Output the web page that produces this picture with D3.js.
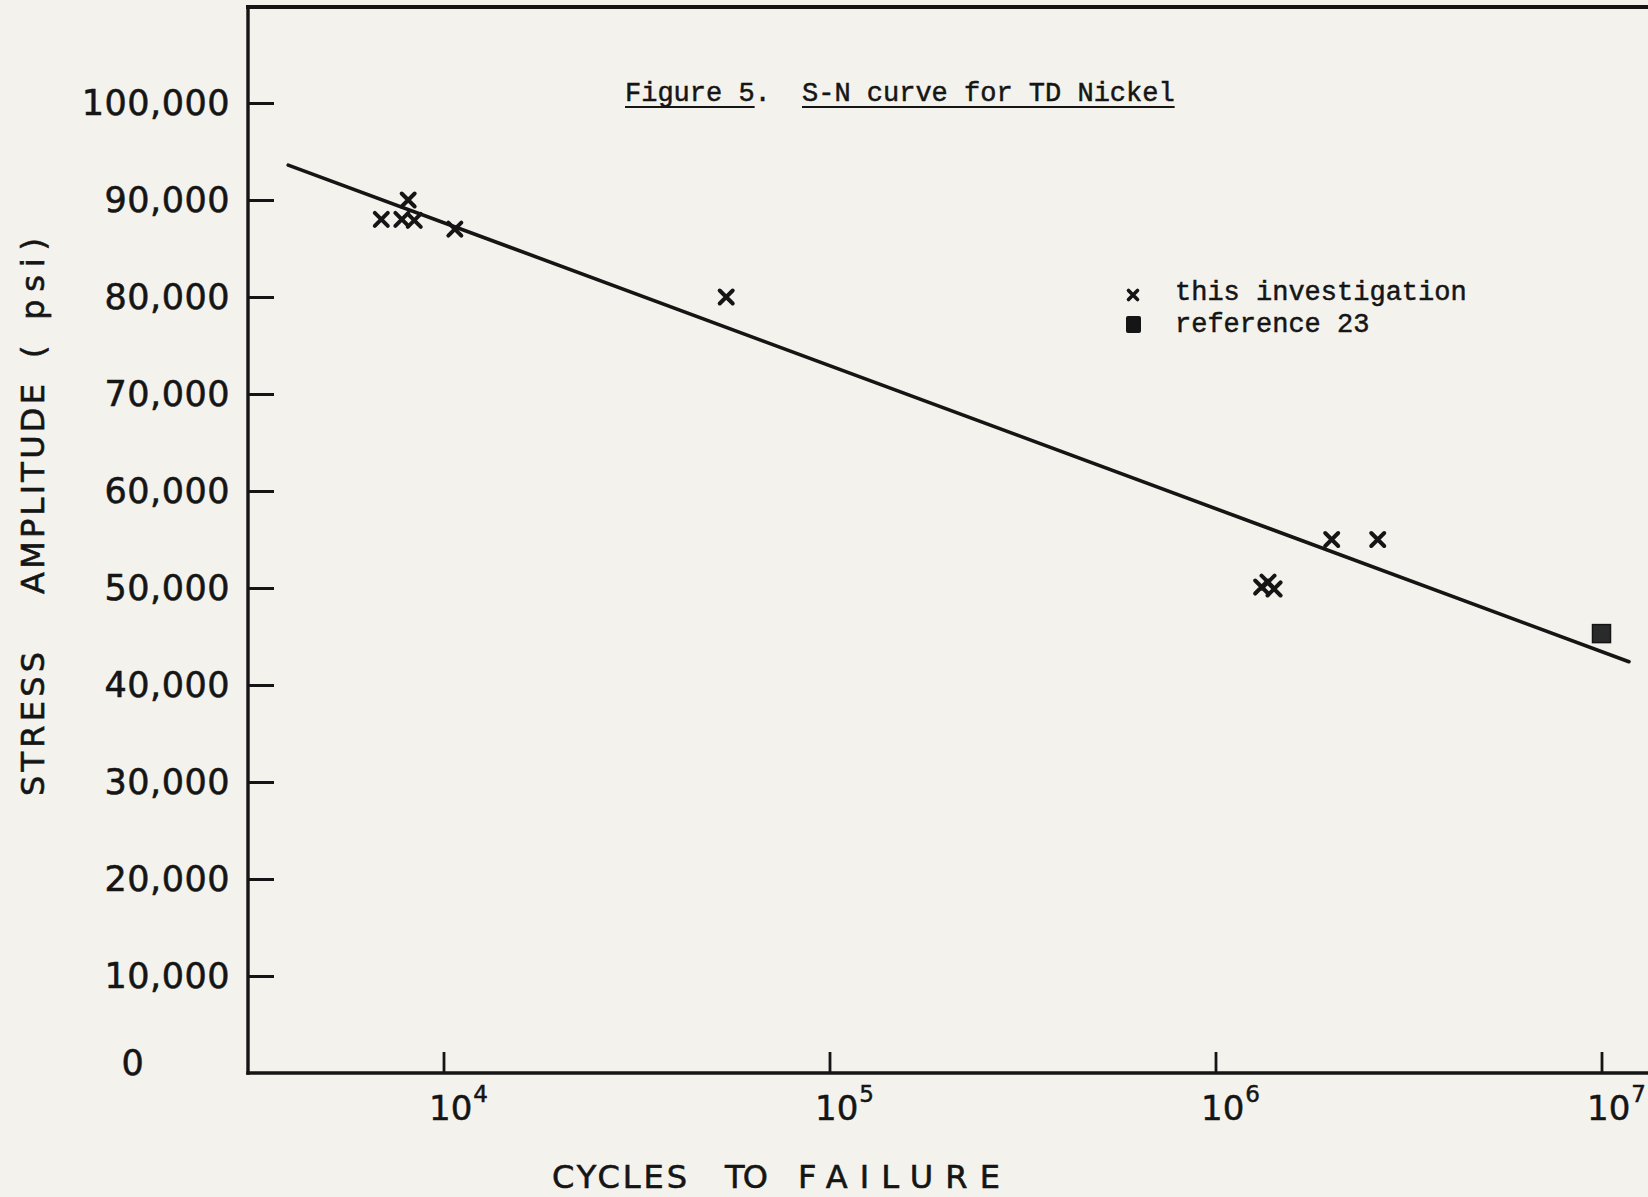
<!DOCTYPE html>
<html>
<head>
<meta charset="utf-8">
<script src="https://cdn.jsdelivr.net/npm/d3@7"></script>
<style>
  html, body { margin: 0; padding: 0; background: #f2f1ea; }
  svg { display: block; }
</style>
</head>
<body>
<svg id="chart" width="1648" height="1197"></svg>
<script>
// ---- data ----
const cyclesInvestigation = [6900, 7800, 8100, 8400, 10700, 54000, 1317000, 1368000, 1418000, 2000000, 2632000];
const stressInvestigation = [88000, 88000, 90000, 87900, 87000, 80000, 50100, 50600, 49900, 55000, 55000];
const cyclesReference = [10000000];
const stressReference = [45300];
const fitCycles = [3960, 11780000];
const fitStress = [93600, 42400];
const yTickValues = [0, 10000, 20000, 30000, 40000, 50000, 60000, 70000, 80000, 90000, 100000];
const xTickValues = [1e4, 1e5, 1e6, 1e7];
const xTickExponents = ["4", "5", "6", "7"];
const legendLabels = ["this investigation", "reference 23"];

// ---- layout ----
const W = 1648, H = 1197;
const frameLeft = 248, frameTop = 7, frameBottom = 1073, frameRight = 1648;
const ink = "#151515";
const sans = "'DejaVu Sans', sans-serif";
const mono = "'Liberation Mono', 'DejaVu Sans Mono', monospace";

const svg = d3.select("#chart");
svg.append("rect").attr("width", W).attr("height", H).attr("fill", "#f3f2ec");

const x = d3.scaleLog().domain([1e4, 1e7]).range([443.5, 1601.5]);
const y = d3.scaleLinear().domain([0, 100000]).range([1073, 103]);

// frame
const frame = svg.append("g").attr("stroke", ink).attr("fill", "none").attr("stroke-linecap", "square");
frame.append("line").attr("x1", frameLeft).attr("x2", frameRight).attr("y1", frameTop).attr("y2", frameTop).attr("stroke-width", 4);
frame.append("line").attr("x1", frameLeft).attr("x2", frameLeft).attr("y1", frameTop).attr("y2", frameBottom).attr("stroke-width", 3.4);
frame.append("line").attr("x1", frameLeft).attr("x2", frameRight).attr("y1", frameBottom).attr("y2", frameBottom).attr("stroke-width", 3.4);

// y axis
const yAxis = d3.axisLeft(y)
  .tickValues(yTickValues)
  .tickFormat(d3.format(","))
  .tickSizeInner(-26)
  .tickSizeOuter(0)
  .tickPadding(18);
const gy = svg.append("g").attr("transform", `translate(${frameLeft},0)`).call(yAxis);
gy.select(".domain").remove();
gy.selectAll(".tick line").attr("stroke", ink).attr("stroke-width", 3);
gy.selectAll(".tick").filter(d => d === 0).select("line").remove();
gy.selectAll(".tick text")
  .attr("fill", ink)
  .attr("stroke", ink)
  .attr("stroke-width", 0.6)
  .style("font-family", sans)
  .style("font-size", "35px")
  .style("letter-spacing", "0.5px");
gy.selectAll(".tick").filter(d => d === 0).select("text")
  .attr("text-anchor", "middle")
  .attr("x", 133 - frameLeft)
  .attr("dy", "0.05em");

// x axis
const xAxis = d3.axisBottom(x)
  .tickValues(xTickValues)
  .tickFormat("")
  .tickSizeInner(-21)
  .tickSizeOuter(0);
const gx = svg.append("g").attr("transform", `translate(0,${frameBottom})`).call(xAxis);
gx.select(".domain").remove();
gx.selectAll(".tick line").attr("stroke", ink).attr("stroke-width", 2.8);
gx.selectAll(".tick").each(function(d, i) {
  const t = d3.select(this).append("text")
    .attr("x", -15)
    .attr("y", 47)
    .attr("text-anchor", "start")
    .attr("fill", ink)
    .attr("stroke", ink)
    .attr("stroke-width", 0.5)
    .style("font-family", sans)
    .style("font-size", "34px");
  t.append("tspan").text("10");
  t.append("tspan").attr("dx", 1).attr("dy", -18).style("font-size", "23px").text(xTickExponents[i]);
});

// axis titles
const xTitleParts = [["CYCLES", 552, 135], ["TO", 725, 43], ["FAILURE", 798, 202]];
xTitleParts.forEach(([txt, px, len]) => {
  svg.append("text")
    .attr("x", px).attr("y", 1188)
    .attr("textLength", len).attr("lengthAdjust", "spacing")
    .attr("fill", ink).attr("stroke", ink).attr("stroke-width", 0.6)
    .style("font-family", sans).style("font-size", "32px")
    .text(txt);
});
const yTitleParts = [["STRESS", 724, 144], ["AMPLITUDE", 489, 210], ["( psi)", 298, 120]];
yTitleParts.forEach(([txt, cy, len]) => {
  svg.append("text")
    .attr("transform", `translate(44,${cy}) rotate(-90)`)
    .attr("text-anchor", "middle")
    .attr("textLength", len).attr("lengthAdjust", "spacing")
    .attr("fill", ink).attr("stroke", ink).attr("stroke-width", 0.6)
    .style("font-family", sans).style("font-size", "32px")
    .text(txt);
});

// title (typewritten, underlined)
const title1 = svg.append("text").attr("x", 625).attr("y", 101)
  .attr("fill", ink).attr("stroke", ink).attr("stroke-width", 0.5)
  .style("font-family", mono).style("font-size", "27px").text("Figure 5.");
const title2 = svg.append("text").attr("x", 802).attr("y", 101)
  .attr("fill", ink).attr("stroke", ink).attr("stroke-width", 0.5)
  .style("font-family", mono).style("font-size", "27px").text("S-N curve for TD Nickel");
const b1 = title1.node().getBBox(), b2 = title2.node().getBBox();
svg.append("line").attr("x1", b1.x).attr("x2", b1.x + b1.width * 8 / 9).attr("y1", 107).attr("y2", 107)
  .attr("stroke", ink).attr("stroke-width", 2.2);
svg.append("line").attr("x1", b2.x).attr("x2", b2.x + b2.width).attr("y1", 107).attr("y2", 107)
  .attr("stroke", ink).attr("stroke-width", 2.2);

// fit line
const line = d3.line().x(d => x(d[0])).y(d => y(d[1]));
svg.append("path")
  .datum(fitCycles.map((c, i) => [c, fitStress[i]]))
  .attr("d", line)
  .attr("fill", "none").attr("stroke", ink).attr("stroke-width", 3.6).attr("stroke-linecap", "round");

// crosses
const crossPath = s => `M${-s},${-s}L${s},${s}M${-s},${s}L${s},${-s}`;
svg.append("g").selectAll("path")
  .data(cyclesInvestigation.map((c, i) => [c, stressInvestigation[i]]))
  .join("path")
  .attr("transform", d => `translate(${x(d[0])},${y(d[1])})`)
  .attr("d", crossPath(6.5))
  .attr("fill", "none").attr("stroke", ink).attr("stroke-width", 4).attr("stroke-linecap", "round");

// reference square
svg.append("g").selectAll("rect")
  .data(cyclesReference.map((c, i) => [c, stressReference[i]]))
  .join("rect")
  .attr("x", d => x(d[0]) - 9).attr("y", d => y(d[1]) - 9)
  .attr("width", 18).attr("height", 18)
  .attr("fill", "#2a2a2a").attr("stroke", ink).attr("stroke-width", 1.5);

// legend
const lg = svg.append("g");
lg.append("path").attr("transform", "translate(1133,295)").attr("d", crossPath(4.5))
  .attr("fill", "none").attr("stroke", ink).attr("stroke-width", 3.6).attr("stroke-linecap", "round");
lg.append("rect").attr("x", 1126).attr("y", 316).attr("width", 15).attr("height", 17).attr("rx", 2).attr("fill", ink);
legendLabels.forEach((t, i) => {
  lg.append("text").attr("x", 1175).attr("y", 300 + i * 32)
    .attr("fill", ink).attr("stroke", ink).attr("stroke-width", 0.5)
    .style("font-family", mono).style("font-size", "27px").text(t);
});
</script>
</body>
</html>
